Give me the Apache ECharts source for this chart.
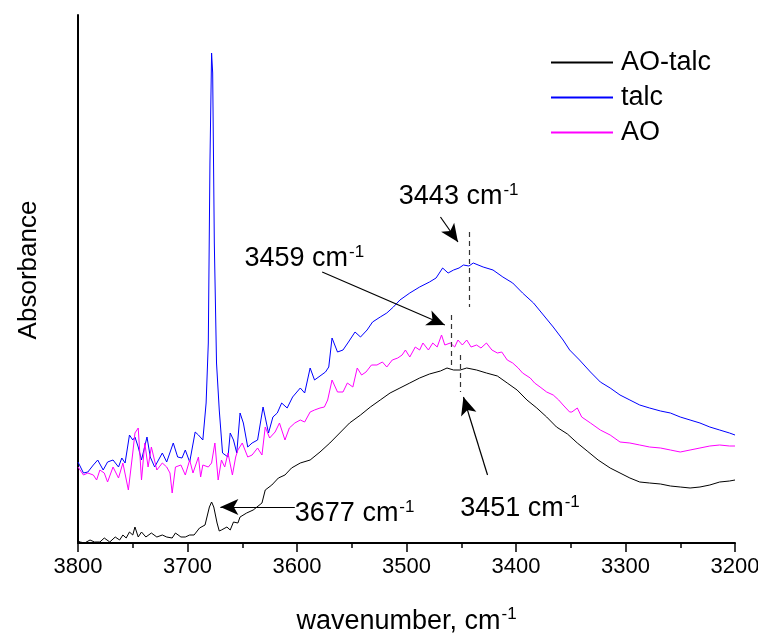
<!DOCTYPE html>
<html>
<head>
<meta charset="utf-8">
<script src="https://cdn.jsdelivr.net/npm/echarts@6/dist/echarts.min.js"></script>
<style>html,body{margin:0;padding:0;background:#fff;overflow:hidden}#c{width:758px;height:635px}</style>
</head>
<body>
<div id="c"></div>
<script>
// ---- data (wavenumber in cm-1, absorbance in arbitrary units) ----
const seriesNames = ['AO-talc', 'talc', 'AO'];
const xTicks = [3800, 3700, 3600, 3500, 3400, 3300, 3200];

const wnAOtalc = [3800,3798,3794,3789,3785,3780,3776,3771,3766,3762,3759,3756,3753,3750,3748,3745,3742,3738,3733,3728,3723,3719,3714,3711,3706,3702,3698,3694,3689,3684,3680,3678,3676,3673,3671,3669,3664,3661,3658,3654,3652,3646,3640,3632,3629,3623,3617,3611,3605,3597,3588,3579,3570,3561,3552,3542,3533,3524,3515,3506,3497,3488,3479,3469,3463,3457,3451,3445,3436,3427,3417,3408,3399,3390,3381,3372,3363,3353,3344,3335,3325,3314,3305,3296,3287,3278,3268,3259,3250,3241,3232,3223,3214,3205,3200];
const absAOtalc = [2,1,0,3,1,1,5,1,6,3,8,5,11,8,16,6,11,6,10,6,8,6,5,10,6,6,8,8,15,18,36,41,36,20,12,13,16,13,21,20,26,30,33,40,53,58,65,68,75,80,83,91,100,110,120,128,136,143,150,155,160,165,169,172,175,173,173,175,173,170,167,160,153,143,135,126,116,109,100,92,83,75,70,65,61,60,59,57,56,55,56,58,61,62,63];

const wnTalc = [3800,3795,3791,3786,3782,3777,3773,3768,3763,3760,3757,3753,3750,3748,3745,3742,3737,3734,3730,3723,3719,3713,3709,3705,3702,3698,3693,3690,3686,3683,3681,3679.5,3678,3677,3675.5,3673.5,3671,3668,3663,3661,3658,3655,3652,3649,3645,3641,3636,3631,3626,3622,3618,3614,3609,3604,3597,3593,3588,3584,3574,3571,3568,3563,3558,3553,3547,3542,3536,3531,3524,3518,3512,3506,3497,3488,3479,3473,3467,3462,3457,3452,3448,3443,3439,3430,3421,3412,3403,3394,3384,3375,3366,3357,3351,3342,3332,3323,3314,3305,3296,3287,3278,3268,3259,3250,3241,3232,3223,3214,3205,3200];
const absTalc = [81,70,71,78,83,73,81,83,76,85,80,108,103,106,96,83,106,86,76,90,81,100,86,85,93,81,111,108,103,140,200,380,490,470,300,180,133,90,86,110,103,90,130,120,96,100,103,136,110,126,130,140,135,146,155,150,175,163,171,176,205,191,193,201,211,206,213,221,226,230,236,243,250,256,261,265,275,270,273,275,278,277,280,276,273,266,260,250,240,228,216,203,193,183,171,161,155,148,143,138,135,132,130,126,123,120,116,113,110,108];

const wnAO = [3800,3795,3791,3786,3783,3780,3776,3773,3768,3763,3759,3754,3750,3748,3745,3742,3739,3736,3733,3728,3723,3719,3716,3714,3711,3706,3702,3698,3695,3690,3688,3686,3681,3678,3675,3672,3669,3666,3663,3659,3656,3654,3650,3645,3641,3636,3632,3629,3625,3620,3616,3611,3607,3602,3597,3593,3588,3584,3579,3575,3572,3568,3563,3558,3554,3549,3545,3541,3537,3532,3527,3522,3518,3513,3508,3504,3501,3497,3492,3488,3485,3480,3476,3472,3468,3465,3460,3456,3453,3449,3445,3441,3436,3432,3427,3422,3417,3413,3408,3403,3398,3394,3387,3383,3378,3372,3366,3361,3357,3351,3349,3344,3340,3332,3323,3314,3305,3296,3287,3278,3268,3259,3250,3241,3232,3223,3214,3205,3200];
const absAO = [76,68,70,68,63,73,70,61,76,65,80,53,90,110,115,63,100,76,96,73,80,76,70,50,76,78,68,83,70,86,66,78,76,80,100,63,83,76,90,68,86,93,100,86,88,95,88,116,105,111,120,103,115,120,123,121,131,133,135,136,143,163,151,151,160,156,175,168,171,178,178,181,176,183,185,188,193,186,196,193,200,193,200,196,208,198,200,196,203,198,203,196,198,195,200,193,190,191,183,180,175,170,165,160,156,151,148,143,138,131,131,135,126,120,113,108,101,100,98,96,95,93,91,93,95,97,98,97,97];

// annotations: peak positions (cm-1) and label texts
const peakLabels = ['3443', '3459', '3451', '3677'];
// dashed peak markers: [wavenumber, yFrom, yTo]
const peakMarkers = [[3443, 311, 236], [3459, 228, 178], [3451, 188, 151]];
// arrows: [xFrom, yFrom, xTo, yTo]
const arrows = [[3469, 326, 3453, 301], [3577, 271, 3465, 218], [3426, 68, 3448, 146], [3602, 36, 3670, 36]];
// label anchors (left-middle): [x, y]
const labelAnchors = [[3507, 346], [3648, 284], [3451, 34], [3602, 29]];

// ---- chart ----
const FONT = 'Liberation Sans, Arial, sans-serif';
const zip = (a, b) => a.map((v, i) => [v, b[i]]);
const supRich = (size) => ({
  a: { fontSize: size, fontFamily: FONT, color: '#000', lineHeight: size + 4 },
  b: { fontSize: Math.round(size * 0.62), fontFamily: FONT, color: '#000', verticalAlign: 'top', padding: [0, 0, 0, 1] }
});

const markLineData = [];
peakMarkers.forEach(m => markLineData.push([
  { coord: [m[0], m[1]], symbol: 'none', lineStyle: { type: [5, 4], color: '#333', width: 1.2 } },
  { coord: [m[0], m[2]], symbol: 'none' }
]));
arrows.forEach(a => markLineData.push([
  { coord: [a[0], a[1]], symbol: 'none', lineStyle: { type: 'solid', color: '#000', width: 1.2 } },
  { coord: [a[2], a[3]], symbol: 'arrow', symbolSize: [12, 18] }
]));

const markPointData = peakLabels.map((t, i) => ({ coord: labelAnchors[i], value: t }));

const colors = ['#000000', '#0000ff', '#ff00ff'];
const datasets = [zip(wnAOtalc, absAOtalc), zip(wnTalc, absTalc), zip(wnAO, absAO)];

const series = seriesNames.map((n, i) => ({
  name: n,
  type: 'line',
  data: datasets[i],
  symbol: 'none',
  smooth: false,
  lineStyle: { color: colors[i], width: 1 },
  itemStyle: { color: colors[i] },
  z: 2 + i
}));

series.push({
  name: 'annotations',
  type: 'line',
  data: [],
  symbol: 'none',
  silent: true,
  markLine: {
    silent: true,
    animation: false,
    symbol: ['none', 'none'],
    label: { show: false },
    data: markLineData
  },
  markPoint: {
    silent: true,
    animation: false,
    symbol: 'circle',
    symbolSize: 0,
    data: markPointData,
    label: {
      show: true,
      position: [0, 0],
      align: 'left',
      verticalAlign: 'middle',
      formatter: p => '{a|' + p.value + ' cm}{b|-1}',
      rich: supRich(27)
    }
  }
});

const chart = echarts.init(document.getElementById('c'), null, { renderer: 'canvas' });
chart.setOption({
  animation: false,
  backgroundColor: '#fff',
  grid: { left: 78, right: 23, top: 15, bottom: 92, containLabel: false, outerBoundsMode: 'none' },
  legend: {
    data: seriesNames,
    orient: 'vertical',
    left: 546,
    top: 44,
    icon: 'rect',
    itemWidth: 62,
    itemHeight: 2,
    itemGap: 8,
    textStyle: { fontSize: 27, fontFamily: FONT, color: '#000', padding: [0, 0, 0, 3] }
  },
  xAxis: {
    type: 'value',
    min: xTicks[xTicks.length - 1],
    max: xTicks[0],
    interval: 100,
    inverse: true,
    axisLine: { onZero: false, lineStyle: { color: '#000', width: 2 } },
    axisTick: { show: true, inside: false, length: 9, lineStyle: { color: '#000', width: 1.5 } },
    minorTick: { show: true, splitNumber: 2, length: 5, lineStyle: { color: '#000', width: 1.5 } },
    splitLine: { show: false },
    axisLabel: { fontSize: 22, fontFamily: FONT, color: '#000', margin: 13, formatter: v => String(v) },
    name: '{a|wavenumber, cm}{b|-1}',
    nameLocation: 'middle',
    nameGap: 63,
    nameTextStyle: { rich: supRich(27) }
  },
  yAxis: {
    type: 'value',
    min: 0,
    max: 528,
    axisLine: { show: true, onZero: false, lineStyle: { color: '#000', width: 2 } },
    axisTick: { show: false },
    axisLabel: { show: false },
    splitLine: { show: false },
    name: 'Absorbance',
    nameLocation: 'middle',
    nameRotate: 90,
    nameGap: 36,
    nameTextStyle: { fontSize: 26, fontFamily: FONT, color: '#000', padding: [0, 0, 0, 18] }
  },
  series: series
});
</script>
</body>
</html>
